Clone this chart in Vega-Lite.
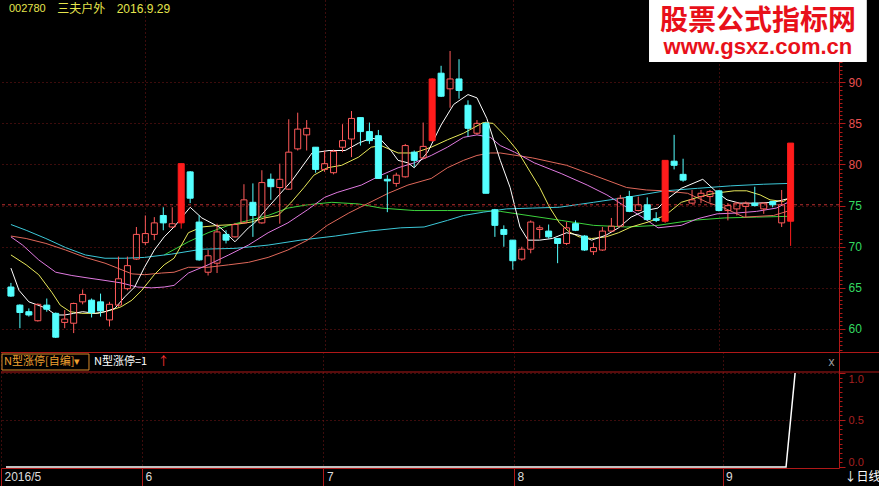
{
  "$schema": "https://vega.github.io/schema/vega-lite/v6.json",
  "background": "#000000",
  "padding": 0,
  "autosize": {"type": "pad", "contains": "padding"},
  "spacing": 0,
  "bounds": "flush",
  "config": {
    "view": {"stroke": null},
    "axis": {"labelFont": "Liberation Sans", "titleFont": "Liberation Sans"},
    "text": {"font": "Liberation Sans"}
  },
  "datasets": {
    "one": [{}],
    "k": [
      {"i":0,"o":65.1,"h":65.6,"l":63.9,"c":64.0,"t":"down","n":0},
      {"i":1,"o":62.9,"h":63.0,"l":60.1,"c":62.0,"t":"down","n":0},
      {"i":2,"o":62.1,"h":62.5,"l":61.5,"c":61.7,"t":"down","n":0},
      {"i":3,"o":61.0,"h":63.1,"l":60.9,"c":63.0,"t":"up","n":0},
      {"i":4,"o":62.9,"h":63.7,"l":62.1,"c":62.4,"t":"down","n":0},
      {"i":5,"o":61.9,"h":62.0,"l":58.9,"c":59.0,"t":"down","n":0},
      {"i":6,"o":60.8,"h":62.3,"l":60.1,"c":61.2,"t":"up","n":0},
      {"i":7,"o":60.7,"h":63.2,"l":59.5,"c":63.1,"t":"up","n":0},
      {"i":8,"o":63.3,"h":64.8,"l":63.0,"c":64.2,"t":"up","n":0},
      {"i":9,"o":63.5,"h":63.7,"l":61.4,"c":62.0,"t":"down","n":0},
      {"i":10,"o":63.3,"h":64.3,"l":61.5,"c":62.2,"t":"down","n":0},
      {"i":11,"o":61.1,"h":63.3,"l":60.3,"c":63.0,"t":"up","n":0},
      {"i":12,"o":62.9,"h":68.8,"l":62.7,"c":66.1,"t":"up","n":0},
      {"i":13,"o":64.9,"h":68.8,"l":64.7,"c":67.7,"t":"up","n":0},
      {"i":14,"o":68.5,"h":72.4,"l":68.4,"c":71.5,"t":"up","n":0},
      {"i":15,"o":70.5,"h":73.8,"l":70.2,"c":71.6,"t":"up","n":0},
      {"i":16,"o":71.5,"h":73.6,"l":70.8,"c":72.9,"t":"up","n":0},
      {"i":17,"o":73.8,"h":74.8,"l":72.0,"c":72.9,"t":"down","n":0},
      {"i":18,"o":72.4,"h":74.8,"l":72.3,"c":72.8,"t":"up","n":0},
      {"i":19,"o":72.9,"h":80.1,"l":72.2,"c":80.1,"t":"limit","n":0},
      {"i":20,"o":79.1,"h":79.2,"l":75.3,"c":75.9,"t":"down","n":0},
      {"i":21,"o":73.0,"h":73.8,"l":68.3,"c":68.4,"t":"down","n":0},
      {"i":22,"o":66.9,"h":69.6,"l":66.5,"c":68.9,"t":"up","n":0},
      {"i":23,"o":68.0,"h":72.8,"l":66.8,"c":71.8,"t":"up","n":0},
      {"i":24,"o":71.5,"h":72.0,"l":70.4,"c":70.8,"t":"down","n":0},
      {"i":25,"o":71.2,"h":72.9,"l":71.1,"c":72.7,"t":"up","n":0},
      {"i":26,"o":72.9,"h":77.6,"l":72.8,"c":75.7,"t":"up","n":0},
      {"i":27,"o":75.4,"h":77.7,"l":71.2,"c":73.8,"t":"down","n":0},
      {"i":28,"o":72.9,"h":79.3,"l":72.8,"c":77.8,"t":"up","n":0},
      {"i":29,"o":78.2,"h":78.9,"l":75.7,"c":77.3,"t":"down","n":0},
      {"i":30,"o":77.2,"h":80.1,"l":72.8,"c":78.2,"t":"up","n":0},
      {"i":31,"o":77.0,"h":85.5,"l":76.9,"c":81.5,"t":"up","n":0},
      {"i":32,"o":81.9,"h":86.3,"l":81.7,"c":84.3,"t":"up","n":0},
      {"i":33,"o":83.6,"h":85.4,"l":81.7,"c":84.4,"t":"up","n":0},
      {"i":34,"o":82.1,"h":82.1,"l":79.0,"c":79.4,"t":"down","n":0},
      {"i":35,"o":79.4,"h":81.7,"l":79.1,"c":80.1,"t":"up","n":0},
      {"i":36,"o":79.0,"h":81.8,"l":78.8,"c":81.6,"t":"up","n":0},
      {"i":37,"o":82.1,"h":84.9,"l":81.5,"c":82.9,"t":"up","n":0},
      {"i":38,"o":83.1,"h":86.5,"l":80.9,"c":85.6,"t":"up","n":0},
      {"i":39,"o":85.7,"h":85.7,"l":82.3,"c":84.0,"t":"down","n":0},
      {"i":40,"o":84.0,"h":85.1,"l":82.5,"c":82.9,"t":"down","n":0},
      {"i":41,"o":83.5,"h":84.2,"l":78.3,"c":78.3,"t":"down","n":0},
      {"i":42,"o":78.2,"h":78.7,"l":74.2,"c":78.0,"t":"down","n":0},
      {"i":43,"o":77.7,"h":79.0,"l":77.3,"c":78.7,"t":"up","n":0},
      {"i":44,"o":78.5,"h":82.5,"l":78.4,"c":82.3,"t":"up","n":0},
      {"i":45,"o":81.5,"h":81.7,"l":79.7,"c":80.5,"t":"down","n":0},
      {"i":46,"o":80.8,"h":85.1,"l":80.7,"c":82.2,"t":"up","n":0},
      {"i":47,"o":82.9,"h":90.5,"l":82.8,"c":90.4,"t":"limit","n":0},
      {"i":48,"o":91.1,"h":92.0,"l":88.2,"c":88.3,"t":"down","n":0},
      {"i":49,"o":89.2,"h":93.8,"l":86.9,"c":90.4,"t":"up","n":0},
      {"i":50,"o":90.4,"h":92.8,"l":88.0,"c":89.0,"t":"down","n":0},
      {"i":51,"o":87.2,"h":87.8,"l":83.4,"c":84.4,"t":"down","n":0},
      {"i":52,"o":83.8,"h":85.4,"l":83.6,"c":85.0,"t":"up","n":0},
      {"i":53,"o":85.0,"h":85.2,"l":76.5,"c":76.5,"t":"down","n":0},
      {"i":54,"o":74.5,"h":74.6,"l":71.2,"c":72.6,"t":"down","n":0},
      {"i":55,"o":72.1,"h":72.6,"l":70.0,"c":71.5,"t":"down","n":0},
      {"i":56,"o":70.8,"h":70.8,"l":67.2,"c":68.3,"t":"down","n":0},
      {"i":57,"o":68.5,"h":70.0,"l":68.3,"c":69.7,"t":"up","n":0},
      {"i":58,"o":69.7,"h":73.2,"l":69.2,"c":73.0,"t":"up","n":0},
      {"i":59,"o":72.1,"h":72.6,"l":71.0,"c":72.3,"t":"up","n":0},
      {"i":60,"o":71.9,"h":72.7,"l":71.0,"c":71.2,"t":"down","n":0},
      {"i":61,"o":71.0,"h":71.0,"l":68.0,"c":70.4,"t":"down","n":0},
      {"i":62,"o":70.4,"h":73.0,"l":70.2,"c":72.3,"t":"up","n":0},
      {"i":63,"o":72.8,"h":73.2,"l":71.9,"c":72.0,"t":"down","n":0},
      {"i":64,"o":71.3,"h":71.4,"l":69.5,"c":69.6,"t":"down","n":0},
      {"i":65,"o":69.4,"h":70.5,"l":69.0,"c":69.9,"t":"up","n":0},
      {"i":66,"o":69.6,"h":72.4,"l":69.5,"c":71.9,"t":"up","n":0},
      {"i":67,"o":71.9,"h":73.5,"l":71.8,"c":72.5,"t":"up","n":0},
      {"i":68,"o":72.5,"h":76.3,"l":72.4,"c":75.9,"t":"up","n":0},
      {"i":69,"o":76.1,"h":76.8,"l":74.2,"c":74.3,"t":"down","n":0},
      {"i":70,"o":74.4,"h":76.1,"l":74.3,"c":75.1,"t":"up","n":0},
      {"i":71,"o":75.1,"h":76.0,"l":73.2,"c":73.3,"t":"down","n":0},
      {"i":72,"o":73.4,"h":74.2,"l":73.0,"c":73.2,"t":"down","n":0},
      {"i":73,"o":73.1,"h":80.5,"l":72.9,"c":80.5,"t":"limit","n":0},
      {"i":74,"o":80.4,"h":83.6,"l":79.4,"c":79.9,"t":"down","n":0},
      {"i":75,"o":78.8,"h":80.7,"l":77.9,"c":78.1,"t":"down","n":0},
      {"i":76,"o":75.3,"h":76.9,"l":75.2,"c":75.7,"t":"up","n":0},
      {"i":77,"o":76.1,"h":76.9,"l":75.3,"c":76.5,"t":"up","n":0},
      {"i":78,"o":76.1,"h":76.9,"l":75.4,"c":76.7,"t":"up","n":0},
      {"i":79,"o":76.8,"h":76.9,"l":74.3,"c":74.4,"t":"down","n":0},
      {"i":80,"o":74.4,"h":75.3,"l":73.2,"c":75.0,"t":"up","n":0},
      {"i":81,"o":74.6,"h":75.4,"l":73.8,"c":75.3,"t":"up","n":0},
      {"i":82,"o":74.9,"h":75.5,"l":73.6,"c":75.3,"t":"up","n":0},
      {"i":83,"o":75.3,"h":77.3,"l":74.9,"c":75.0,"t":"down","n":0},
      {"i":84,"o":74.6,"h":75.4,"l":74.0,"c":75.3,"t":"up","n":0},
      {"i":85,"o":75.5,"h":75.5,"l":74.8,"c":75.1,"t":"down","n":0},
      {"i":86,"o":72.9,"h":76.9,"l":72.4,"c":75.1,"t":"up","n":0},
      {"i":87,"o":73.1,"h":82.6,"l":70.1,"c":82.6,"t":"limit","n":1}
    ],
    "ma": [
      {"s":"MA120","i":17.1,"v":69.0},{"s":"MA120","i":19.8,"v":70.6},{"s":"MA120","i":22,"v":71.7},{"s":"MA120","i":24.3,"v":72.6},{"s":"MA120","i":26.5,"v":73.2},{"s":"MA120","i":28.7,"v":73.8},{"s":"MA120","i":30.9,"v":74.7},{"s":"MA120","i":33.1,"v":75.1},{"s":"MA120","i":35.8,"v":75.4},{"s":"MA120","i":38.8,"v":75.2},{"s":"MA120","i":41.3,"v":74.7},{"s":"MA120","i":45,"v":74.4},{"s":"MA120","i":48.7,"v":74.4},{"s":"MA120","i":51.3,"v":74.4},{"s":"MA120","i":54.6,"v":74.3},{"s":"MA120","i":57.7,"v":73.8},{"s":"MA120","i":61.4,"v":73.2},{"s":"MA120","i":65,"v":72.6},{"s":"MA120","i":68.7,"v":72.4},{"s":"MA120","i":72.2,"v":72.6},{"s":"MA120","i":75.9,"v":73.2},{"s":"MA120","i":79.6,"v":73.5},{"s":"MA120","i":83.2,"v":73.6},{"s":"MA120","i":86.9,"v":73.7},
      {"s":"MA60","i":0,"v":72.7},{"s":"MA60","i":1.7,"v":72.0},{"s":"MA60","i":3.9,"v":71.0},{"s":"MA60","i":6.1,"v":69.9},{"s":"MA60","i":8.3,"v":69.0},{"s":"MA60","i":10.5,"v":68.6},{"s":"MA60","i":12.7,"v":68.6},{"s":"MA60","i":14.9,"v":68.7},{"s":"MA60","i":17.9,"v":69.1},{"s":"MA60","i":21.3,"v":69.7},{"s":"MA60","i":25,"v":69.8},{"s":"MA60","i":28.7,"v":70.2},{"s":"MA60","i":32.3,"v":70.8},{"s":"MA60","i":36.2,"v":71.3},{"s":"MA60","i":39.9,"v":71.9},{"s":"MA60","i":43.5,"v":72.3},{"s":"MA60","i":46.1,"v":72.4},{"s":"MA60","i":48.7,"v":73.2},{"s":"MA60","i":50.5,"v":73.8},{"s":"MA60","i":52.7,"v":74.2},{"s":"MA60","i":55.3,"v":74.6},{"s":"MA60","i":58.2,"v":74.7},{"s":"MA60","i":61.2,"v":74.8},{"s":"MA60","i":65,"v":75.4},{"s":"MA60","i":68.7,"v":76.0},{"s":"MA60","i":73,"v":76.8},{"s":"MA60","i":76.6,"v":77.1},{"s":"MA60","i":80.3,"v":77.4},{"s":"MA60","i":84,"v":77.6},{"s":"MA60","i":86.9,"v":77.7},
      {"s":"MA30","i":0,"v":71.3},{"s":"MA30","i":1.7,"v":71.0},{"s":"MA30","i":3.9,"v":70.4},{"s":"MA30","i":6.1,"v":69.6},{"s":"MA30","i":8.3,"v":68.7},{"s":"MA30","i":10.5,"v":68.0},{"s":"MA30","i":11.9,"v":67.4},{"s":"MA30","i":13.5,"v":66.7},{"s":"MA30","i":14.9,"v":66.6},{"s":"MA30","i":16.8,"v":66.8},{"s":"MA30","i":18.2,"v":66.9},{"s":"MA30","i":19.8,"v":67.5},{"s":"MA30","i":22,"v":67.5},{"s":"MA30","i":24.3,"v":67.8},{"s":"MA30","i":26.5,"v":68.1},{"s":"MA30","i":28.7,"v":68.7},{"s":"MA30","i":30.9,"v":69.6},{"s":"MA30","i":33.1,"v":70.8},{"s":"MA30","i":35.3,"v":72.6},{"s":"MA30","i":37.7,"v":74.1},{"s":"MA30","i":39.9,"v":75.3},{"s":"MA30","i":42.1,"v":76.5},{"s":"MA30","i":44.3,"v":77.5},{"s":"MA30","i":46.9,"v":78.3},{"s":"MA30","i":48.7,"v":79.6},{"s":"MA30","i":50.5,"v":80.5},{"s":"MA30","i":52,"v":81.1},{"s":"MA30","i":53.5,"v":81.4},{"s":"MA30","i":54.6,"v":81.4},{"s":"MA30","i":58.2,"v":80.8},{"s":"MA30","i":62,"v":79.9},{"s":"MA30","i":65,"v":78.7},{"s":"MA30","i":68.7,"v":77.2},{"s":"MA30","i":70.9,"v":76.9},{"s":"MA30","i":72.8,"v":76.8},{"s":"MA30","i":75.5,"v":76.5},{"s":"MA30","i":77.7,"v":75.4},{"s":"MA30","i":79.6,"v":74.7},{"s":"MA30","i":81.8,"v":73.6},{"s":"MA30","i":85.1,"v":73.8},{"s":"MA30","i":86.9,"v":74.4},
      {"s":"MA20","i":0,"v":71.2},{"s":"MA20","i":1.3,"v":70.2},{"s":"MA20","i":3.1,"v":68.4},{"s":"MA20","i":5,"v":66.9},{"s":"MA20","i":6.8,"v":66.5},{"s":"MA20","i":8.6,"v":66.2},{"s":"MA20","i":10.5,"v":65.9},{"s":"MA20","i":12.3,"v":65.6},{"s":"MA20","i":14.1,"v":65.1},{"s":"MA20","i":15.7,"v":65.0},{"s":"MA20","i":17.1,"v":65.1},{"s":"MA20","i":18.2,"v":65.3},{"s":"MA20","i":19.8,"v":66.8},{"s":"MA20","i":22,"v":67.8},{"s":"MA20","i":24.3,"v":69.0},{"s":"MA20","i":26.5,"v":70.2},{"s":"MA20","i":28.7,"v":71.7},{"s":"MA20","i":30.9,"v":72.9},{"s":"MA20","i":33.1,"v":74.5},{"s":"MA20","i":35,"v":76.0},{"s":"MA20","i":36.4,"v":76.6},{"s":"MA20","i":39.1,"v":77.5},{"s":"MA20","i":41.3,"v":78.7},{"s":"MA20","i":43.2,"v":79.6},{"s":"MA20","i":45,"v":80.2},{"s":"MA20","i":46.9,"v":81.1},{"s":"MA20","i":48.7,"v":82.1},{"s":"MA20","i":50.5,"v":83.3},{"s":"MA20","i":52,"v":83.6},{"s":"MA20","i":53.5,"v":83.3},{"s":"MA20","i":54.6,"v":82.3},{"s":"MA20","i":56.2,"v":81.5},{"s":"MA20","i":58.4,"v":80.2},{"s":"MA20","i":61.4,"v":78.9},{"s":"MA20","i":64.3,"v":77.5},{"s":"MA20","i":66.5,"v":76.3},{"s":"MA20","i":68.7,"v":74.8},{"s":"MA20","i":70.6,"v":73.5},{"s":"MA20","i":72.2,"v":72.3},{"s":"MA20","i":74.8,"v":72.6},{"s":"MA20","i":76.6,"v":73.4},{"s":"MA20","i":78.8,"v":74.0},{"s":"MA20","i":81,"v":74.1},{"s":"MA20","i":83.2,"v":74.3},{"s":"MA20","i":85.4,"v":74.7},{"s":"MA20","i":86.9,"v":75.5},
      {"s":"MA10","i":0,"v":69.0},{"s":"MA10","i":1.7,"v":67.8},{"s":"MA10","i":3.1,"v":66.6},{"s":"MA10","i":4.6,"v":64.4},{"s":"MA10","i":5.5,"v":62.9},{"s":"MA10","i":6.6,"v":62.1},{"s":"MA10","i":7.9,"v":61.9},{"s":"MA10","i":9.7,"v":61.9},{"s":"MA10","i":11.2,"v":62.3},{"s":"MA10","i":12.3,"v":62.7},{"s":"MA10","i":13.5,"v":63.5},{"s":"MA10","i":14.6,"v":64.7},{"s":"MA10","i":16,"v":66.6},{"s":"MA10","i":17.1,"v":67.8},{"s":"MA10","i":18.2,"v":68.6},{"s":"MA10","i":19.8,"v":71.7},{"s":"MA10","i":21.3,"v":72.4},{"s":"MA10","i":23.2,"v":72.6},{"s":"MA10","i":25,"v":72.7},{"s":"MA10","i":26.8,"v":73.0},{"s":"MA10","i":28.3,"v":73.5},{"s":"MA10","i":29.8,"v":73.8},{"s":"MA10","i":31.2,"v":75.3},{"s":"MA10","i":32.7,"v":77.2},{"s":"MA10","i":33.8,"v":78.7},{"s":"MA10","i":35.3,"v":79.6},{"s":"MA10","i":36.9,"v":79.9},{"s":"MA10","i":38.8,"v":80.9},{"s":"MA10","i":40.2,"v":82.1},{"s":"MA10","i":41.3,"v":82.3},{"s":"MA10","i":43.2,"v":81.4},{"s":"MA10","i":45,"v":81.4},{"s":"MA10","i":46.9,"v":82.1},{"s":"MA10","i":48.7,"v":83.0},{"s":"MA10","i":50.5,"v":83.8},{"s":"MA10","i":52.7,"v":85.1},{"s":"MA10","i":53.8,"v":85.0},{"s":"MA10","i":55.3,"v":83.3},{"s":"MA10","i":56.5,"v":81.7},{"s":"MA10","i":57.6,"v":79.7},{"s":"MA10","i":59,"v":77.2},{"s":"MA10","i":60.1,"v":74.8},{"s":"MA10","i":61.2,"v":72.9},{"s":"MA10","i":62.3,"v":71.8},{"s":"MA10","i":63.4,"v":71.2},{"s":"MA10","i":64.8,"v":71.0},{"s":"MA10","i":66.4,"v":71.2},{"s":"MA10","i":67.8,"v":71.7},{"s":"MA10","i":69.2,"v":72.4},{"s":"MA10","i":71.1,"v":73.0},{"s":"MA10","i":73,"v":73.8},{"s":"MA10","i":74.8,"v":75.4},{"s":"MA10","i":76.6,"v":76.0},{"s":"MA10","i":78.5,"v":76.5},{"s":"MA10","i":80.7,"v":76.8},{"s":"MA10","i":82.1,"v":76.8},{"s":"MA10","i":83.6,"v":76.3},{"s":"MA10","i":84.7,"v":75.7},{"s":"MA10","i":86.2,"v":75.5},{"s":"MA10","i":86.9,"v":76.0},
      {"s":"MA5","i":0,"v":67.4},{"s":"MA5","i":0.9,"v":64.7},{"s":"MA5","i":2,"v":63.3},{"s":"MA5","i":3,"v":62.9},{"s":"MA5","i":4,"v":62.5},{"s":"MA5","i":5,"v":61.7},{"s":"MA5","i":6,"v":61.7},{"s":"MA5","i":7,"v":61.9},{"s":"MA5","i":8,"v":62.1},{"s":"MA5","i":9.4,"v":61.9},{"s":"MA5","i":10.5,"v":62.1},{"s":"MA5","i":11.6,"v":62.5},{"s":"MA5","i":12.7,"v":63.9},{"s":"MA5","i":13.8,"v":65.1},{"s":"MA5","i":14.9,"v":67.5},{"s":"MA5","i":16,"v":69.6},{"s":"MA5","i":17.1,"v":71.2},{"s":"MA5","i":18.2,"v":72.4},{"s":"MA5","i":20,"v":74.8},{"s":"MA5","i":21.3,"v":73.5},{"s":"MA5","i":23.4,"v":72.3},{"s":"MA5","i":25,"v":70.6},{"s":"MA5","i":26.5,"v":72.3},{"s":"MA5","i":27.2,"v":72.9},{"s":"MA5","i":28.7,"v":74.8},{"s":"MA5","i":31.4,"v":78.1},{"s":"MA5","i":33.6,"v":81.4},{"s":"MA5","i":35.5,"v":81.7},{"s":"MA5","i":37.3,"v":81.7},{"s":"MA5","i":38.8,"v":82.6},{"s":"MA5","i":40.2,"v":83.2},{"s":"MA5","i":41.3,"v":83.0},{"s":"MA5","i":42.4,"v":81.7},{"s":"MA5","i":43.2,"v":80.5},{"s":"MA5","i":44.3,"v":80.2},{"s":"MA5","i":45,"v":79.6},{"s":"MA5","i":46.5,"v":81.5},{"s":"MA5","i":48,"v":84.8},{"s":"MA5","i":49.4,"v":87.3},{"s":"MA5","i":51,"v":88.5},{"s":"MA5","i":52,"v":88.1},{"s":"MA5","i":53.1,"v":85.6},{"s":"MA5","i":54.6,"v":80.5},{"s":"MA5","i":55.7,"v":77.2},{"s":"MA5","i":56.8,"v":72.4},{"s":"MA5","i":57.7,"v":70.8},{"s":"MA5","i":59,"v":70.8},{"s":"MA5","i":60.4,"v":71.0},{"s":"MA5","i":62,"v":71.7},{"s":"MA5","i":63.4,"v":71.4},{"s":"MA5","i":64.8,"v":70.8},{"s":"MA5","i":66.4,"v":71.4},{"s":"MA5","i":67.8,"v":72.3},{"s":"MA5","i":69.2,"v":73.6},{"s":"MA5","i":70.8,"v":74.4},{"s":"MA5","i":72.2,"v":74.7},{"s":"MA5","i":73.1,"v":75.7},{"s":"MA5","i":74.8,"v":77.1},{"s":"MA5","i":77.2,"v":78.2},{"s":"MA5","i":78.8,"v":76.6},{"s":"MA5","i":79.9,"v":75.7},{"s":"MA5","i":81.3,"v":75.3},{"s":"MA5","i":83.2,"v":75.3},{"s":"MA5","i":85.1,"v":75.4},{"s":"MA5","i":86.9,"v":75.9}
    ]
  },
  "vconcat": [
    {
      "width": 838,
      "height": 352,
      "layer": [
        {
          "data": {"name": "ma"},
          "mark": {"type": "line", "strokeWidth": 1},
          "encoding": {
            "x": {"field": "i", "type": "quantitative",
              "scale": {"domain": [-0.55, 91.84], "nice": false, "zero": false},
              "axis": {"orient": "bottom", "values": [15, 35, 56, 79], "grid": true, "gridColor": "#7a1818", "gridDash": [1, 3], "labels": false, "ticks": false, "domain": false, "title": null}},
            "y": {"field": "v", "type": "quantitative",
              "scale": {"domain": [57.2, 100], "nice": false, "zero": false},
              "axis": {"orient": "right", "title": null, "tickCount": 300,
                "values": [57.5,58,58.5,59,59.5,60,60.5,61,61.5,62,62.5,63,63.5,64,64.5,65,65.5,66,66.5,67,67.5,68,68.5,69,69.5,70,70.5,71,71.5,72,72.5,73,73.5,74,74.5,75,75.5,76,76.5,77,77.5,78,78.5,79,79.5,80,80.5,81,81.5,82,82.5,83,83.5,84,84.5,85,85.5,86,86.5,87,87.5,88,88.5,89,89.5,90,90.5,91,91.5,92,92.5,93,93.5,94,94.5,95,95.5,96,96.5,97,97.5,98,98.5],
                "labelExpr": "(datum.value % 5 === 0 && datum.value >= 60 && datum.value <= 90) ? format(datum.value, 'd') : ''",
                "labelOverlap": false, "labelFlush": false, "labelBound": false,
                "labelFontSize": 12,
                "labelPadding": 3,
                "labelColor": {"condition": {"test": "datum.value >= 76", "value": "#e85050"}, "value": "#34d860"},
                "domainColor": "#b01818", "tickColor": "#b01818",
                "tickSize": {"condition": {"test": "datum.value % 5 === 0", "value": 6}, "value": 3},
                "grid": true, "gridColor": "#7a1818", "gridDash": [1, 3],
                "gridOpacity": {"condition": {"test": "datum.value % 5 === 0 && datum.value >= 60 && datum.value <= 90", "value": 1}, "value": 0}}},
            "color": {"field": "s", "type": "nominal",
              "scale": {"domain": ["MA120", "MA60", "MA30", "MA20", "MA10", "MA5"], "range": ["#3cd23c", "#3cc8d8", "#e0685a", "#e07ae0", "#e8e85a", "#ffffff"]},
              "legend": null}
          }
        },
        {
          "data": {"name": "one"},
          "mark": {"type": "rule", "color": "#c03030", "strokeDash": [3, 3]},
          "encoding": {"y": {"datum": 75.1}}
        },
        {
          "data": {"name": "k"},
          "transform": [{"filter": "datum.t != 'up'"}],
          "mark": {"type": "rule", "strokeWidth": 1},
          "encoding": {
            "x": {"field": "i", "type": "quantitative"},
            "y": {"field": "l", "type": "quantitative"},
            "y2": {"field": "h"},
            "stroke": {"field": "t", "type": "nominal", "scale": {"domain": ["up", "down", "limit"], "range": ["#ff5a5a", "#54ffff", "#ff1c1c"]}, "legend": null}
          }
        },
        {
          "data": {"name": "k"},
          "transform": [{"filter": "datum.t == 'up'"}],
          "mark": {"type": "rule", "strokeWidth": 1, "color": "#ff5a5a"},
          "encoding": {
            "x": {"field": "i", "type": "quantitative"},
            "y": {"field": "c", "type": "quantitative"},
            "y2": {"field": "h"}
          }
        },
        {
          "data": {"name": "k"},
          "transform": [{"filter": "datum.t == 'up'"}],
          "mark": {"type": "rule", "strokeWidth": 1, "color": "#ff5a5a"},
          "encoding": {
            "x": {"field": "i", "type": "quantitative"},
            "y": {"field": "l", "type": "quantitative"},
            "y2": {"field": "o"}
          }
        },
        {
          "data": {"name": "k"},
          "mark": {"type": "bar", "size": 6, "strokeWidth": 1},
          "encoding": {
            "x": {"field": "i", "type": "quantitative"},
            "y": {"field": "o", "type": "quantitative"},
            "y2": {"field": "c"},
            "fill": {"field": "t", "type": "nominal", "scale": {"domain": ["up", "down", "limit"], "range": ["transparent", "#54ffff", "#ff1c1c"]}, "legend": null},
            "stroke": {"field": "t", "type": "nominal", "scale": {"domain": ["up", "down", "limit"], "range": ["#ff5a5a", "#54ffff", "#ff1c1c"]}, "legend": null}
          }
        },
        {
          "data": {"name": "one"},
          "mark": {"type": "text", "align": "left", "baseline": "middle", "fontSize": 11, "color": "#e5e54d"},
          "encoding": {"x": {"datum": -0.22}, "y": {"datum": 98.9}, "text": {"value": "002780"}}
        },
        {
          "data": {"name": "one"},
          "mark": {"type": "text", "align": "left", "baseline": "middle", "fontSize": 12, "color": "#e5e54d", "font": "Noto Sans CJK SC"},
          "encoding": {"x": {"datum": 5.18}, "y": {"datum": 98.9}, "text": {"value": "三夫户外"}}
        },
        {
          "data": {"name": "one"},
          "mark": {"type": "text", "align": "left", "baseline": "middle", "fontSize": 12, "color": "#e5e54d"},
          "encoding": {"x": {"datum": 11.8}, "y": {"datum": 98.9}, "text": {"value": "2016.9.29"}}
        },
        {
          "data": {"name": "one"},
          "mark": {"type": "rect", "fill": "#ffffff"},
          "encoding": {"x": {"datum": 71.2}, "x2": {"datum": 95.5}, "y": {"datum": 100}, "y2": {"datum": 92.46}}
        },
        {
          "data": {"name": "one"},
          "mark": {"type": "text", "align": "center", "baseline": "middle", "fontSize": 28, "fontWeight": "bold", "color": "#e8101a", "font": "Noto Sans CJK SC"},
          "encoding": {"x": {"datum": 83.35}, "y": {"datum": 97.35}, "text": {"value": "股票公式指标网"}}
        },
        {
          "data": {"name": "one"},
          "mark": {"type": "text", "align": "center", "baseline": "middle", "fontSize": 22, "fontWeight": "bold", "color": "#e8101a"},
          "encoding": {"x": {"datum": 83.35}, "y": {"datum": 94.3}, "text": {"value": "www.gsxz.com.cn"}}
        }
      ]
    },
    {
      "width": 838,
      "height": 116,
      "layer": [
        {
          "data": {"name": "k"},
          "mark": {"type": "line", "color": "#ffffff", "strokeWidth": 1.5},
          "encoding": {
            "x": {"field": "i", "type": "quantitative",
              "scale": {"domain": [-0.55, 91.84], "nice": false, "zero": false},
              "axis": {"orient": "bottom", "values": [-0.55, 15, 35, 56, 79], "tickCount": 50,
                "labelExpr": "datum.value < 0 ? '2016/5' : datum.value < 20 ? '6' : datum.value < 40 ? '7' : datum.value < 60 ? '8' : '9'",
                "labelAlign": "left", "labelBaseline": "top", "labelOffset": 3, "labelPadding": -15,
                "labelColor": "#dcdcdc", "labelFontSize": 12, "labelOverlap": false, "labelFlush": false, "labelBound": false,
                "tickSize": 18, "tickColor": "#b01818", "domainColor": "#b01818",
                "grid": true, "gridColor": "#7a1818", "gridDash": [1, 3],
                "title": "↓日线", "titleX": 843, "titleY": 3, "titleAlign": "left", "titleBaseline": "top",
                "titleColor": "#ffffff", "titleFontSize": 12, "titleFontWeight": "normal", "titleFont": "Noto Sans CJK SC"}},
            "y": {"field": "n", "type": "quantitative",
              "scale": {"domain": [-0.0106, 1.2234], "nice": false, "zero": false},
              "axis": {"orient": "right", "title": null, "tickCount": 100,
                "values": [0,0.05,0.1,0.15,0.2,0.25,0.3,0.35,0.4,0.45,0.5,0.55,0.6,0.65,0.7,0.75,0.8,0.85,0.9,0.95,1],
                "labelExpr": "(datum.value == 0 || datum.value == 0.5 || datum.value == 1) ? format(datum.value, '.1f') : ''",
                "labelOverlap": false, "labelFlush": false, "labelBound": false,
                "labelColor": "#a82020",
                "labelFontSize": 11,
                "labelPadding": 3,
                "labelBaseline": {"condition": [{"test": "datum.value == 1", "value": "top"}, {"test": "datum.value == 0", "value": "bottom"}], "value": "middle"},
                "domainColor": "#b01818", "tickColor": "#b01818",
                "tickSize": {"condition": {"test": "datum.value == 0 || datum.value == 0.5 || datum.value == 1", "value": 6}, "value": 3},
                "grid": true, "gridColor": "#7a1818", "gridDash": [1, 3],
                "gridOpacity": {"condition": {"test": "datum.value == 0.5 || datum.value == 1", "value": 1}, "value": 0}}}
          }
        },
        {
          "data": {"name": "one"},
          "mark": {"type": "rule", "color": "#b01818"},
          "encoding": {"x": {"datum": -0.55}, "x2": {"datum": 96.3}, "y": {"datum": 1.2180}}
        },
        {
          "data": {"name": "one"},
          "mark": {"type": "rule", "color": "#b01818"},
          "encoding": {"x": {"datum": -0.55}, "x2": {"datum": 96.3}, "y": {"datum": 1.0106}}
        },
        {
          "data": {"name": "one"},
          "mark": {"type": "rect", "fill": "transparent", "stroke": "#d98a2b", "strokeWidth": 1},
          "encoding": {"x": {"datum": -0.44}, "x2": {"datum": 9.15}, "y": {"datum": 1.202}, "y2": {"datum": 1.032}}
        },
        {
          "data": {"name": "one"},
          "mark": {"type": "text", "align": "left", "baseline": "middle", "fontSize": 11, "color": "#f0a030", "font": "Noto Sans CJK SC"},
          "encoding": {"x": {"datum": -0.22}, "y": {"datum": 1.117}, "text": {"value": "N型涨停[自编]▾"}}
        },
        {
          "data": {"name": "one"},
          "mark": {"type": "text", "align": "left", "baseline": "middle", "fontSize": 11, "color": "#ffffff", "font": "Noto Sans CJK SC"},
          "encoding": {"x": {"datum": 9.7}, "y": {"datum": 1.117}, "text": {"value": "N型涨停=1"}}
        },
        {
          "data": {"name": "one"},
          "mark": {"type": "text", "align": "left", "baseline": "middle", "fontSize": 12, "color": "#ff3030", "font": "Noto Sans CJK SC"},
          "encoding": {"x": {"datum": 16.7}, "y": {"datum": 1.117}, "text": {"value": "↑"}}
        },
        {
          "data": {"name": "one"},
          "mark": {"type": "text", "align": "center", "baseline": "middle", "fontSize": 12, "color": "#a0a0a0"},
          "encoding": {"x": {"datum": 91.0}, "y": {"datum": 1.117}, "text": {"value": "x"}}
        }
      ]
    }
  ]
}
